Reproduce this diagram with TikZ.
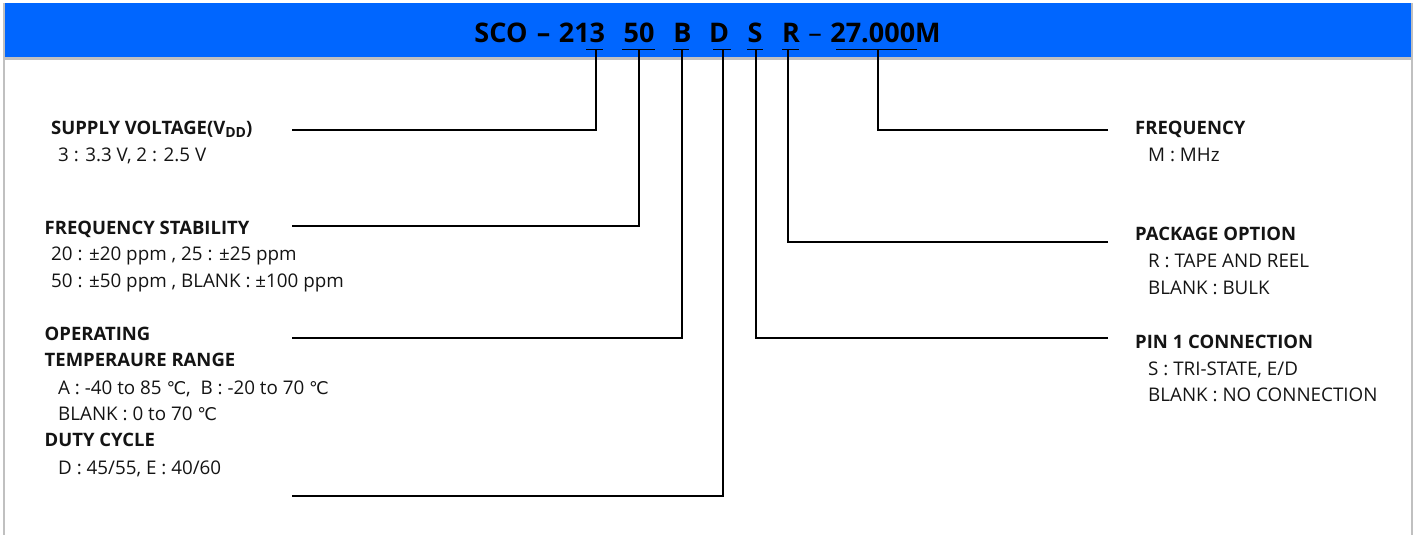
\documentclass[tikz,border=0pt]{standalone}
\usepackage{fontspec}
\setmainfont{Open Sans}
\newfontfamily\degfont{DejaVu Sans}
\newcommand{\degc}{{\degfont\fontsize{17.5}{21}\selectfont ℃}}
\definecolor{band}{RGB}{0,102,255}
\definecolor{edge}{RGB}{192,192,192}
\definecolor{ink}{RGB}{20,20,20}
\tikzset{
  code/.style={anchor=base, inner sep=0pt, font=\fontsize{27}{30}\selectfont\bfseries, text=black},
  dashsym/.style={anchor=base, inner sep=0pt, font=\fontsize{27}{30}\selectfont, text=black},
  head/.style={anchor=base west, inner sep=0pt, font=\fontsize{18.5}{21}\selectfont\bfseries, text=ink},
  sub/.style={anchor=base west, inner sep=0pt, font=\fontsize{18.8}{21}\selectfont, text=ink},
  conn/.style={line width=1.8pt, black},
  uline/.style={line width=1.8pt, black}
}
\begin{document}
\begin{tikzpicture}[x=1pt,y=-1pt]
\useasboundingbox (0,0) rectangle (1416,535);
% frame
\fill[band] (5,3) rectangle (1411,57);
\fill[edge] (5,57) rectangle (1411,60);
\fill[edge] (3.3,3) rectangle (5.3,535);
\fill[edge] (1411,3) rectangle (1413,535);
% title tokens
\node[code] (tSCO) at (501,42.3) {SCO};
\node[code] (tD1) at (543.5,42.3) {–};
\node[code] (t213) at (582,42.3) {213};
\node[code] (t50) at (639,42.3) {50};
\node[code] (tB) at (682.5,42.3) {B};
\node[code] (tD) at (719,42.3) {D};
\node[code] (tS) at (755,42.3) {S};
\node[code] (tR) at (791,42.3) {R};
\node[dashsym] (tD2) at (815,42.3) {–};
\node[code] (tF) at (885.5,42.3) {27.000M};
% underlines
\draw[uline] (586,49.5) -- (603,49.5);
\draw[uline] (622,49.5) -- (655,49.5);
\draw[uline] (673,49.5) -- (689,49.5);
\draw[uline] (713,49.5) -- (731,49.5);
\draw[uline] (747,49.5) -- (763,49.5);
\draw[uline] (782,49.5) -- (799,49.5);
\draw[uline] (836,49.5) -- (917,49.5);
% underline anchors
\coordinate (u213) at (596,49.5);
\coordinate (u50) at (639,49.5);
\coordinate (uB) at (682,49.5);
\coordinate (uD) at (723,49.5);
\coordinate (uS) at (756,49.5);
\coordinate (uR) at (788,49.5);
\coordinate (uF) at (877.7,49.5);
% left labels
\node[head] (sv) at (51,134) {SUPPLY VOLTAGE(V\raisebox{-0.3ex}{\fontsize{14}{16}\selectfont DD})};
\node[sub] (sv1) at (58,161.7) {3 : 3.3 V, 2 : 2.5 V};
\node[head] (fs) at (44.5,234) {FREQUENCY STABILITY};
\node[sub] (fs1) at (51,260) {20 : ±20 ppm , 25 : ±25 ppm};
\node[sub] (fs2) at (51,287.3) {50 : ±50 ppm , BLANK : ±100 ppm};
\node[head] (ot) at (44.5,340) {OPERATING};
\node[head] (ot2) at (44.5,366.7) {TEMPERAURE RANGE};
\node[sub] (ot3) at (58,394) {A : -40 to 85 \degc,\ \ B : -20 to 70 \degc};
\node[sub] (ot4) at (58,420) {BLANK : 0 to 70 \degc};
\node[head] (dc) at (44.5,446.7) {DUTY CYCLE};
\node[sub] (dc1) at (58,474) {D : 45/55, E : 40/60};
% right labels
\node[head] (fr) at (1135,134) {FREQUENCY};
\node[sub] (fr1) at (1148,161.7) {M : MHz};
\node[head] (po) at (1135,240.7) {PACKAGE OPTION};
\node[sub] (po1) at (1148,267.7) {R : TAPE AND REEL};
\node[sub] (po2) at (1148,294) {BLANK : BULK};
\node[head] (pc) at (1135,348.3) {PIN 1 CONNECTION};
\node[sub] (pc1) at (1148,375) {S : TRI-STATE, E/D};
\node[sub] (pc2) at (1148,401.7) {BLANK : NO CONNECTION};
% line ends
\coordinate (lsv) at (292,130);
\coordinate (lfs) at (292,226);
\coordinate (lot) at (292,337.7);
\coordinate (ldc) at (292,495.7);
\coordinate (rfr) at (1108,130);
\coordinate (rpo) at (1108,242);
\coordinate (rpc) at (1108,338);
% connectors
\draw[conn] (lsv) -| (u213);
\draw[conn] (lfs) -| (u50);
\draw[conn] (lot) -| (uB);
\draw[conn] (ldc) -| (uD);
\draw[conn] (rfr) -| (uF);
\draw[conn] (rpo) -| (uR);
\draw[conn] (rpc) -| (uS);
\end{tikzpicture}
\end{document}
